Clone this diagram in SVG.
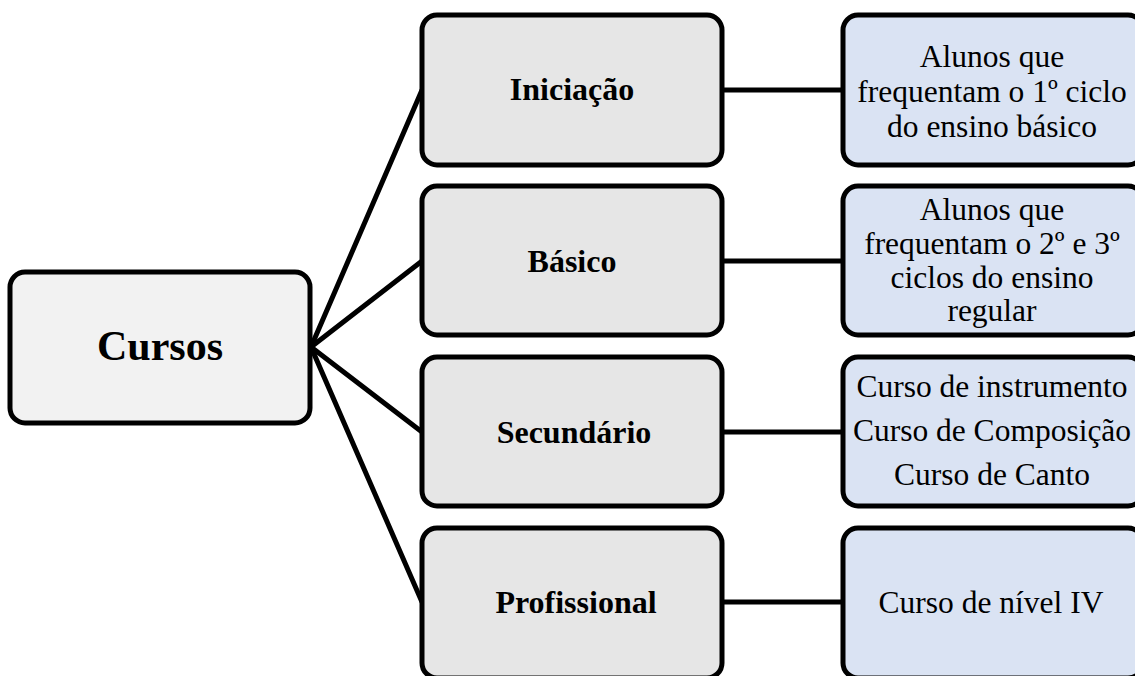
<svg xmlns="http://www.w3.org/2000/svg" width="1135" height="676" viewBox="0 0 1135 676">
<style>
.box{stroke:#000;stroke-width:5;}
.root{fill:#f2f2f2;}
.mid{fill:#e6e6e6;}
.leaf{fill:#dae3f3;}
.conn line{stroke:#000;stroke-width:5;stroke-linecap:round;}
text{font-family:"Liberation Serif","Times New Roman",serif;fill:#000;text-anchor:middle;}
.b{font-weight:bold;font-size:32px;}
.r{font-size:31.5px;}
</style>
<rect width="1135" height="676" fill="#fff"/>
<g id="connectors" class="conn">
<line x1="311" y1="347" x2="422" y2="90"/>
<line x1="311" y1="347" x2="422" y2="261"/>
<line x1="311" y1="347" x2="422" y2="432"/>
<line x1="311" y1="347" x2="422" y2="602"/>
<line x1="722" y1="90" x2="843" y2="90"/>
<line x1="722" y1="261" x2="843" y2="261"/>
<line x1="722" y1="432" x2="843" y2="432"/>
<line x1="722" y1="602" x2="843" y2="602"/>
</g>
<g id="cursos">
<rect class="box root" x="10" y="272" width="300" height="151" rx="15"/>
<text x="160" y="360" style="font-weight:bold;font-size:42px">Cursos</text>
</g>
<g id="iniciacao">
<rect class="box mid" x="422" y="15" width="300" height="150" rx="15"/>
<text class="b" x="572" y="100">Iniciação</text>
</g>
<g id="basico">
<rect class="box mid" x="422" y="186" width="300" height="149" rx="15"/>
<text class="b" x="572" y="272">Básico</text>
</g>
<g id="secundario">
<rect class="box mid" x="422" y="357" width="300" height="149" rx="15"/>
<text class="b" x="574" y="443">Secundário</text>
</g>
<g id="profissional">
<rect class="box mid" x="422" y="528" width="300" height="150" rx="15"/>
<text class="b" x="576" y="613">Profissional</text>
</g>
<g id="iniciacao-desc">
<rect class="box leaf" x="843" y="15" width="300" height="150" rx="15"/>
<text class="r" x="992" y="67">Alunos que</text>
<text class="r" x="992" y="102">frequentam o 1º ciclo</text>
<text class="r" x="992" y="137">do ensino básico</text>
</g>
<g id="basico-desc">
<rect class="box leaf" x="843" y="186" width="300" height="149" rx="15"/>
<text class="r" x="992" y="220">Alunos que</text>
<text class="r" x="992" y="254">frequentam o 2º e 3º</text>
<text class="r" x="992" y="288">ciclos do ensino</text>
<text class="r" x="992" y="321">regular</text>
</g>
<g id="secundario-desc">
<rect class="box leaf" x="843" y="357" width="300" height="149" rx="15"/>
<text class="r" x="992" y="397">Curso de instrumento</text>
<text class="r" x="992" y="441">Curso de Composição</text>
<text class="r" x="992" y="485">Curso de Canto</text>
</g>
<g id="profissional-desc">
<rect class="box leaf" x="843" y="528" width="300" height="150" rx="15"/>
<text class="r" x="991" y="613">Curso de nível IV</text>
</g>
</svg>
